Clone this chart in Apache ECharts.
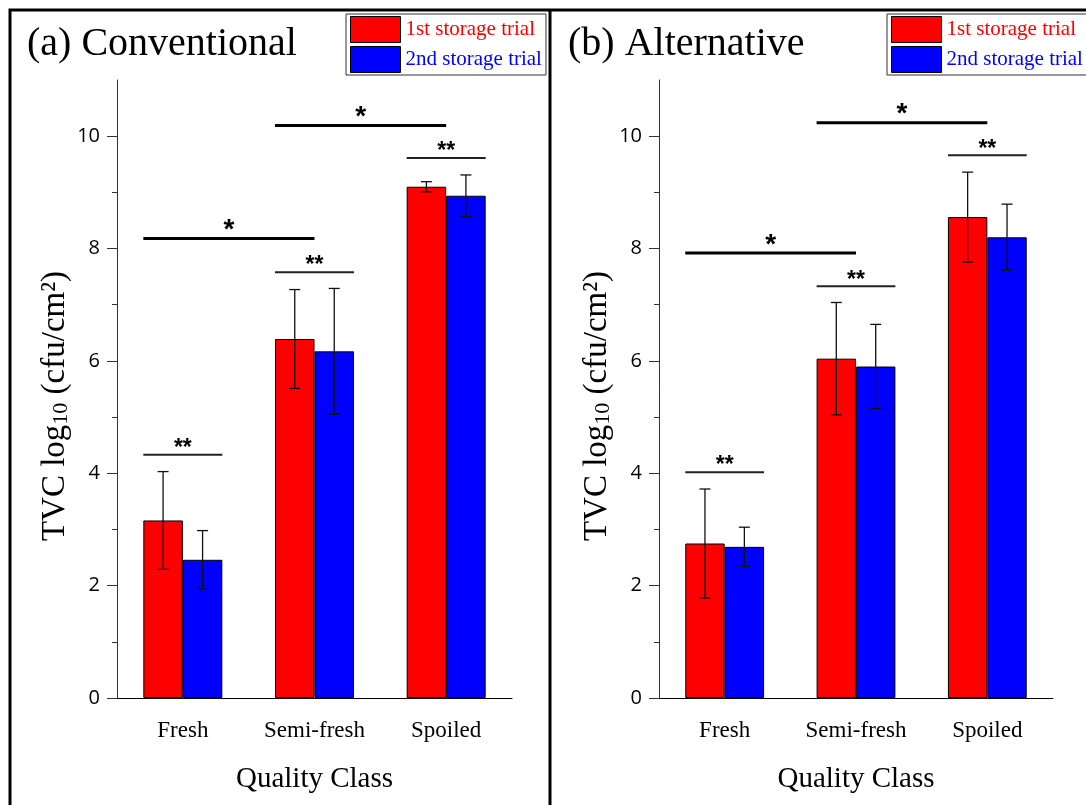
<!DOCTYPE html>
<html><head><meta charset="utf-8">
<script src="https://cdn.jsdelivr.net/npm/echarts@6/dist/echarts.min.js"></script>
<style>html,body{margin:0;padding:0;background:#fff}#c{width:1086px;height:805px}</style>
</head><body><div id="c"></div>
<script>
const categories = ['Fresh', 'Semi-fresh', 'Spoiled'];
const yTicks = [0, 2, 4, 6, 8, 10];
const yMinorTicks = [1, 3, 5, 7, 9];
const seriesNames = ['1st storage trial', '2nd storage trial'];
const panelTitles = ['(a) Conventional', '(b) Alternative'];

const convTrial1 = [3.16, 6.39, 9.10];
const convTrial1Err = [0.87, 0.88, 0.09];
const convTrial2 = [2.46, 6.17, 8.94];
const convTrial2Err = [0.52, 1.12, 0.37];

const altTrial1 = [2.75, 6.04, 8.56];
const altTrial1Err = [0.97, 1.00, 0.80];
const altTrial2 = [2.69, 5.90, 8.20];
const altTrial2Err = [0.35, 0.75, 0.59];

// significance brackets: [fromCategory, fromSide, toCategory, toSide, y]
// side: -1 = left edge of 1st bar, 0 = category centre, 1 = right edge of 2nd bar
const convSig = [[0, -1, 0, 1, 4.33], [1, -1, 1, 1, 7.58], [2, -1, 2, 1, 9.61], [0, -1, 1, 0, 8.18], [1, -1, 2, 0, 10.19]];
const convSigLabels = ['**', '**', '**', '*', '*'];
const altSig = [[0, -1, 0, 1, 4.02], [1, -1, 1, 1, 7.33], [2, -1, 2, 1, 9.66], [0, -1, 1, 0, 7.92], [1, -1, 2, 0, 10.24]];
const altSigLabels = ['**', '**', '**', '*', '*'];

const SERIF = '"Liberation Serif", "Times New Roman", serif';
const SANS = '"Open Sans", "Noto Sans", sans-serif';
const colors = ['#ff0000', '#0000ff'];

function errRender(side) {
  return function (params, api) {
    const c = api.value(0), lo = api.value(1), hi = api.value(2);
    const band = api.size([1, 0])[0];
    const x = api.coord([c, 0])[0] + side * band * 0.15;
    const yl = api.coord([c, lo])[1], yh = api.coord([c, hi])[1];
    const w = 5.5;
    const st = { stroke: '#111', lineWidth: 1.3 };
    return { type: 'group', children: [
      { type: 'line', shape: { x1: x, y1: yh, x2: x, y2: yl }, style: st },
      { type: 'line', shape: { x1: x - w, y1: yh, x2: x + w, y2: yh }, style: st },
      { type: 'line', shape: { x1: x - w, y1: yl, x2: x + w, y2: yl }, style: st }
    ] };
  };
}

function sigRender(sig, labels) {
  return function (params, api) {
    const d = sig[params.dataIndex];
    const band = api.size([1, 0])[0];
    const x1 = api.coord([d[0], d[4]])[0] + d[1] * band * 0.3;
    const x2 = api.coord([d[2], d[4]])[0] + d[3] * band * 0.3;
    const y = api.coord([d[0], d[4]])[1];
    const single = labels[params.dataIndex] === '*';
    return { type: 'group', children: [
      { type: 'line', shape: { x1: x1, y1: y, x2: x2, y2: y }, style: { stroke: single ? '#000' : '#222', lineWidth: single ? 3 : 2 } },
      { type: 'text', x: (x1 + x2) / 2, y: y - (single ? 8 : 6), style: {
        text: labels[params.dataIndex], align: 'center', verticalAlign: 'middle',
        font: 'bold ' + (single ? 28 : 23) + 'px "Liberation Sans", Arial, sans-serif', fill: '#000' } }
    ] };
  };
}

function errData(vals, errs) { return vals.map((v, i) => [i, v - errs[i], v + errs[i]]); }

const panels = [
  { t1: convTrial1, e1: convTrial1Err, t2: convTrial2, e2: convTrial2Err, sig: convSig, labels: convSigLabels },
  { t1: altTrial1, e1: altTrial1Err, t2: altTrial2, e2: altTrial2Err, sig: altSig, labels: altSigLabels }
];

const grids = [
  { left: 117, top: 80, width: 395, height: 618 },
  { left: 659, top: 80, width: 394, height: 618 }
];

const xAxes = [], yAxes = [], series = [];
panels.forEach((p, g) => {
  xAxes.push({
    type: 'category', gridIndex: g, data: categories,
    axisLine: { lineStyle: { color: '#000', width: 1 } },
    axisTick: { alignWithLabel: true, length: 11, lineStyle: { color: '#000' } },
    axisLabel: { fontFamily: SERIF, fontSize: 23, color: '#000', margin: 21 },
    name: 'Quality Class', nameLocation: 'middle', nameGap: 67,
    nameTextStyle: { fontFamily: SERIF, fontSize: 29, color: '#000' }
  });
  yAxes.push({
    type: 'value', gridIndex: g, min: 0, max: 11,
    axisLine: { show: true, lineStyle: { color: '#333' } },
    axisTick: { show: true, length: 10, customValues: yTicks, lineStyle: { color: '#333' } },
    axisLabel: { customValues: yTicks, fontFamily: SANS, fontSize: 20, color: '#000', margin: 17 },
    splitLine: { show: false },
    name: '{t|TVC log}{s|10}{t| (cfu/cm²)}', nameLocation: 'middle', nameGap: 45,
    nameTextStyle: {
      padding: [0, 34, 0, 0],
      rich: {
        t: { fontFamily: SERIF, fontSize: 33, color: '#000', lineHeight: 35, verticalAlign: 'bottom' },
        s: { fontFamily: SERIF, fontSize: 22, color: '#000', lineHeight: 16, verticalAlign: 'bottom' }
      }
    }
  });
  // minor tick axis
  yAxes.push({
    type: 'value', gridIndex: g, min: 0, max: 11, position: 'left',
    axisLine: { show: false },
    axisTick: { show: true, length: 5, customValues: yMinorTicks, lineStyle: { color: '#333' } },
    axisLabel: { show: false }, splitLine: { show: false }
  });
  const yi = 2 * g;
  series.push(
    { name: seriesNames[0], type: 'bar', xAxisIndex: g, yAxisIndex: yi, data: p.t1,
      barGap: '0%', barCategoryGap: '40%',
      itemStyle: { color: colors[0], borderColor: '#000', borderWidth: 1 } },
    { name: seriesNames[1], type: 'bar', xAxisIndex: g, yAxisIndex: yi, data: p.t2,
      barGap: '0%', barCategoryGap: '40%',
      itemStyle: { color: colors[1], borderColor: '#000', borderWidth: 1 } },
    { type: 'custom', xAxisIndex: g, yAxisIndex: yi, data: errData(p.t1, p.e1), renderItem: errRender(-1),
      encode: { x: 0, y: [1, 2] }, z: 5, silent: true },
    { type: 'custom', xAxisIndex: g, yAxisIndex: yi, data: errData(p.t2, p.e2), renderItem: errRender(1),
      encode: { x: 0, y: [1, 2] }, z: 5, silent: true },
    { type: 'custom', xAxisIndex: g, yAxisIndex: yi, data: p.sig.map(d => [d[0], d[4]]),
      renderItem: sigRender(p.sig, p.labels), encode: { x: 0, y: 1 }, z: 6, silent: true }
  );
});

const legendBase = {
  orient: 'vertical', top: 14, itemWidth: 50, itemHeight: 26, itemGap: 3,
  padding: [2, 4, 2, 4], borderColor: '#333', borderWidth: 1, icon: 'rect',
  itemStyle: { borderColor: '#000', borderWidth: 1 },
  textStyle: { fontFamily: SERIF, fontSize: 21 },
  data: [
    { name: seriesNames[0], textStyle: { color: colors[0] } },
    { name: seriesNames[1], textStyle: { color: colors[1] } }
  ]
};

const option = {
  animation: false,
  backgroundColor: '#fff',
  title: panelTitles.map((t, i) => ({
    text: t, left: i === 0 ? 27 : 568, top: 24, padding: 0,
    textStyle: { fontFamily: SERIF, fontSize: 40, fontWeight: 'normal', color: '#000' }
  })),
  legend: [Object.assign({}, legendBase, { left: 346 }), Object.assign({}, legendBase, { left: 887 })],
  grid: grids,
  xAxis: xAxes,
  yAxis: yAxes,
  series: series,
  graphic: [
    { type: 'rect', shape: { x: 10, y: 10, width: 1200, height: 900 }, style: { fill: 'none', stroke: '#000', lineWidth: 3 }, silent: true },
    { type: 'line', shape: { x1: 550, y1: 10, x2: 550, y2: 810 }, style: { stroke: '#000', lineWidth: 3 }, silent: true }
  ]
};

const chart = echarts.init(document.getElementById('c'), null, { renderer: 'canvas' });
chart.setOption(option);
</script>
</body></html>
